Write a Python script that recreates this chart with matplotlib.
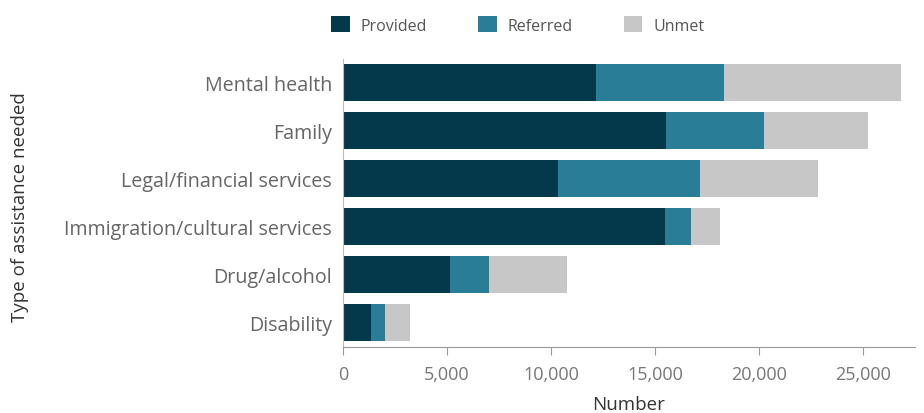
import matplotlib
matplotlib.use("Agg")
import matplotlib.pyplot as plt
from matplotlib.ticker import FuncFormatter

categories = ["Mental health", "Family", "Legal/financial services",
              "Immigration/cultural services", "Drug/alcohol", "Disability"]
provided = [12180, 15510, 10360, 15460, 5130, 1360]
referred = [6150, 4750, 6800, 1290, 1870, 650]
unmet = [8490, 4990, 5690, 1380, 3790, 1230]
series_names = ["Provided", "Referred", "Unmet"]
colors = ["#04394B", "#2A7D97", "#C6C7C6"]
xticks = [0, 5000, 10000, 15000, 20000, 25000]

plt.rcParams['font.family'] = ['Open Sans', 'DejaVu Sans']

fig = plt.figure(figsize=(9.24, 4.14), dpi=100)
ax = fig.add_axes([343/924, 1 - 347.5/414, (915-343)/924, (347.5-59.5)/414])

y = list(range(len(categories)))
left = [0]*len(categories)
handles = []
for name, vals, c in zip(series_names, [provided, referred, unmet], colors):
    h = ax.barh(y, vals, left=left, height=0.78, color=c, label=name, linewidth=0)
    handles.append(h)
    left = [l + v for l, v in zip(left, vals)]

ax.set_ylim(5.5, -0.5)
ax.set_xlim(0, 27500)
ax.set_yticks(y)
ax.set_yticklabels(categories, fontsize=14.2, color="#666666")
ax.set_xticks(xticks)
ax.xaxis.set_major_formatter(FuncFormatter(lambda v, p: f"{int(v):,}"))
ax.tick_params(axis='x', labelsize=13, colors="#777777", length=6, width=0.8, pad=7, color="#999999")
ax.tick_params(axis='y', length=0, pad=8)
for s in ["top", "right"]:
    ax.spines[s].set_visible(False)
ax.spines["bottom"].set_color("#999999")
ax.spines["left"].set_color("#bbbbbb")
ax.spines["bottom"].set_linewidth(0.8)
ax.spines["left"].set_linewidth(0.8)

ax.set_xlabel("Number", fontsize=13.5, color="#333333", labelpad=9)
fig.text(20/924, 1 - 207/414, "Type of assistance needed", rotation=90, fontsize=13.5,
         color="#333333", ha="center", va="center")

leg = fig.legend(handles=handles, labels=series_names, loc="center", ncol=3,
                 bbox_to_anchor=(518/924, 1 - 26/414), frameon=False,
                 fontsize=11.5, handlelength=1.15, handleheight=1.15,
                 columnspacing=3.2, handletextpad=0.7)
for t in leg.get_texts():
    t.set_color("#555555")

fig.savefig("out.png", dpi=100)
